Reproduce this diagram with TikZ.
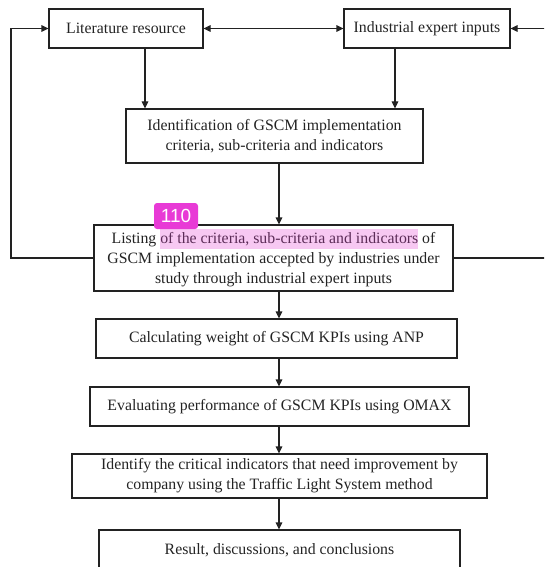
\documentclass[tikz,border=0pt]{standalone}
\usepackage{fontspec}
\setmainfont{Liberation Serif}
\setsansfont{Liberation Sans}
\usepackage{xcolor}
\usepackage{tikz}
\usetikzlibrary{arrows.meta,positioning,calc}
\definecolor{boxline}{RGB}{34,34,34}
\definecolor{boxtext}{RGB}{35,35,35}
\definecolor{hlpink}{RGB}{247,200,242}
\definecolor{hltext}{RGB}{92,44,88}
\definecolor{badgemag}{RGB}{232,58,214}
\newcommand{\hlmark}[1]{{\setlength{\fboxsep}{0pt}\colorbox{hlpink}{\color{hltext}\strut #1}}}

\begin{document}
\begin{tikzpicture}[
  x=1pt, y=-1pt,
  stepbox/.style={draw=boxline, line width=1.1pt, rectangle, align=center, text=boxtext, font=\fontsize{15.8}{20}\selectfont, inner sep=2pt},
  arr/.style={draw=boxline, line width=1.1pt, -{Triangle[length=7pt,width=6.5pt]}},
  dblarr/.style={draw=boxline, line width=1.1pt, {Triangle[length=7pt,width=6.5pt]}-{Triangle[length=7pt,width=6.5pt]}},
  rail/.style={draw=boxline, line width=1.1pt},
  badge/.style={fill=badgemag, text=white, rounded corners=3pt, font=\sffamily\fontsize{19}{19}\selectfont, minimum width=44pt, minimum height=26pt, inner sep=0pt}
]
\useasboundingbox (0,0) rectangle (544,567);
\clip (0,0) rectangle (544,567);

% sources
\node[stepbox, minimum width=154pt, minimum height=39pt] (lit) at (126,28.5) {Literature resource};
\node[stepbox, minimum width=166pt, minimum height=39pt] (ind) at (427,28.5) {Industrial expert inputs};

% main flow
\node[stepbox, minimum width=297pt, minimum height=54pt] (ident) at (274.5,136) {Identification of GSCM implementation\\criteria, sub-criteria and indicators};
\node[stepbox, minimum width=359pt, minimum height=66pt] (listing) at (273.5,258)
  {Listing \hlmark{of the criteria, sub-criteria and indicators} of\\GSCM implementation accepted by industries under\\study through industrial expert inputs};
\node[stepbox, minimum width=361pt, minimum height=39pt] (anp) at (276.5,338.5) {Calculating weight of GSCM KPIs using ANP};
\node[stepbox, minimum width=379pt, minimum height=39pt] (omax) at (279.5,406.5) {Evaluating performance of GSCM KPIs using OMAX};
\node[stepbox, minimum width=415pt, minimum height=44pt] (tls) at (279.5,476) {Identify the critical indicators that need improvement by\\company using the Traffic Light System method};
\node[stepbox, minimum width=361pt, minimum height=40pt] (result) at (279.5,550) {Result, discussions, and conclusions};

\node[badge] (tag) at (176,216) {110};

\coordinate (spine) at (279,0);
\coordinate (leftrail) at (11,0);
\coordinate (rightrail) at (570,0);

% connectors
\draw[dblarr] (lit) -- (ind);
\draw[arr] ([xshift=19pt]lit.south) -- ([xshift=19pt]lit.south |- ident.north);
\draw[arr] ([xshift=-32pt]ind.south) -- ([xshift=-32pt]ind.south |- ident.north);
\draw[arr] (ident.south -| spine) -- (listing.north -| spine);
\draw[arr] (listing.south -| spine) -- (anp.north -| spine);
\draw[arr] (anp.south -| spine) -- (omax.north -| spine);
\draw[arr] (omax.south -| spine) -- (tls.north -| spine);
\draw[arr] (tls.south -| spine) -- (result.north -| spine);

% feedback rails
\draw[arr] (listing.west) -- (listing.west -| leftrail) |- (lit.west);
\draw[arr] (listing.east) -- (listing.east -| rightrail) |- (ind.east);
\end{tikzpicture}
\end{document}
